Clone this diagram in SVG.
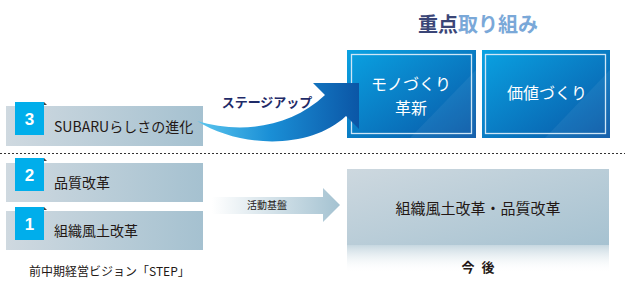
<svg xmlns="http://www.w3.org/2000/svg" width="625" height="288" viewBox="0 0 625 288">
<defs>
<linearGradient id="gBar" x1="0" y1="0" x2="1" y2="0"><stop offset="0" stop-color="#cfd9e0"/><stop offset="1" stop-color="#a5c1d0"/></linearGradient>
<linearGradient id="gBig" x1="0" y1="0" x2="1" y2="1"><stop offset="0" stop-color="#cdd8df"/><stop offset="1" stop-color="#a6c2d1"/></linearGradient>
<linearGradient id="gFade" x1="0" y1="0" x2="0" y2="1"><stop offset="0" stop-color="#c6d7e0"/><stop offset="1" stop-color="#ffffff" stop-opacity="0"/></linearGradient>
<linearGradient id="gBlue" x1="0" y1="0" x2="1" y2="1"><stop offset="0" stop-color="#0aa2e2"/><stop offset="1" stop-color="#0957a6"/></linearGradient>
<linearGradient id="gCurve" gradientUnits="userSpaceOnUse" x1="197" y1="0" x2="359" y2="0"><stop offset="0" stop-color="#5cc6ee"/><stop offset="0.45" stop-color="#1a8fd6"/><stop offset="1" stop-color="#0b56a6"/></linearGradient>
<linearGradient id="gBase" gradientUnits="userSpaceOnUse" x1="212" y1="0" x2="340" y2="0"><stop offset="0" stop-color="#ffffff"/><stop offset="1" stop-color="#a4c2d1"/></linearGradient>
<style>
.bar{fill:url(#gBar)}
.num{fill:#00aeeb}
.tab{fill:#444}
.numt{font-family:"Liberation Sans",Arial,sans-serif;font-size:17px;font-weight:bold;fill:#fff;text-anchor:middle}
.lbl{font-family:"Noto Sans CJK JP","Noto Sans",sans-serif;font-size:14px;fill:#231815}
.bx{fill:url(#gBlue)}
.inner{fill:none;stroke:#cfe6f6;stroke-width:1.3}
.bxt{font-family:"Noto Sans CJK JP",sans-serif;font-size:16px;fill:#fff;text-anchor:middle}
</style>
</defs>
<rect width="625" height="288" fill="#fff"/>

<g id="title">
<text x="478" y="32" font-family="Noto Sans CJK JP,sans-serif" font-size="20" font-weight="bold" text-anchor="middle"><tspan fill="#3b4677">重点</tspan><tspan fill="#7aa8d8">取り組み</tspan></text>
</g>

<g id="node-monozukuri">
<rect class="bx" x="347" y="50" width="129" height="88"/>
<polygon points="476,70 476,138 410,138" fill="#ffffff" opacity="0.06"/>
<rect class="inner" x="351.5" y="54.5" width="120" height="79"/>
<text class="bxt" x="411" y="90">モノづくり</text>
<text class="bxt" x="411" y="114">革新</text>
</g>

<g id="node-kachizukuri">
<rect class="bx" x="482" y="50" width="128" height="88"/>
<polygon points="610,70 610,138 545,138" fill="#ffffff" opacity="0.06"/>
<rect class="inner" x="485.5" y="54.5" width="120" height="79"/>
<text class="bxt" x="547" y="99">価値づくり</text>
</g>

<g id="node-3">
<rect class="bar" x="6" y="106" width="197" height="40"/>
<polygon class="tab" points="44,102 47,105 44,105"/>
<rect class="num" x="15" y="102" width="29" height="33"/>
<text class="numt" x="29.5" y="125">3</text>
<text class="lbl" x="54" y="132">SUBARUらしさの進化</text>
</g>

<line x1="0" y1="153.5" x2="625" y2="153.5" stroke="#333" stroke-width="1" stroke-dasharray="2,2"/>

<g id="node-2">
<rect class="bar" x="6" y="163" width="197" height="39"/>
<polygon class="tab" points="44,158 47,161 44,161"/>
<rect class="num" x="15" y="158" width="29" height="33"/>
<text class="numt" x="29.5" y="181">2</text>
<text class="lbl" x="54" y="188">品質改革</text>
</g>

<g id="node-1">
<rect class="bar" x="6" y="211" width="197" height="39"/>
<polygon class="tab" points="44,207 47,210 44,210"/>
<rect class="num" x="15" y="207" width="29" height="33"/>
<text class="numt" x="29.5" y="230">1</text>
<text class="lbl" x="54" y="236">組織風土改革</text>
</g>

<g id="caption">
<text x="29" y="276" font-family="Noto Sans CJK JP,sans-serif" font-size="12" fill="#231815">前中期経営ビジョン「STEP」</text>
</g>

<g id="node-future">
<rect x="347" y="169" width="262" height="76" fill="url(#gBig)"/>
<rect x="347" y="245" width="262" height="28" fill="url(#gFade)"/>
<text x="478" y="214" font-family="Noto Sans CJK JP,sans-serif" font-size="15" fill="#231815" text-anchor="middle">組織風土改革・品質改革</text>
<text x="479" y="272" font-family="Noto Sans CJK JP,sans-serif" font-size="13" font-weight="bold" fill="#231815" text-anchor="middle" letter-spacing="2">今 後</text>
</g>

<g id="connectors">
<path d="M197,121 C240,134 290,128 325,95 L313,83 L359,83 L359,129 L346,116 C310,150 240,148 197,121 Z" fill="url(#gCurve)"/>
<text x="267" y="107" font-family="Noto Sans CJK JP,sans-serif" font-size="13" font-weight="bold" fill="#1f2b68" text-anchor="middle">ステージアップ</text>
<polygon points="212,197 323,197 323,188 340,205 323,222 323,214 212,214" fill="url(#gBase)"/>
<text x="267" y="209" font-family="Noto Sans CJK JP,sans-serif" font-size="10" fill="#231815" text-anchor="middle">活動基盤</text>
</g>
</svg>
